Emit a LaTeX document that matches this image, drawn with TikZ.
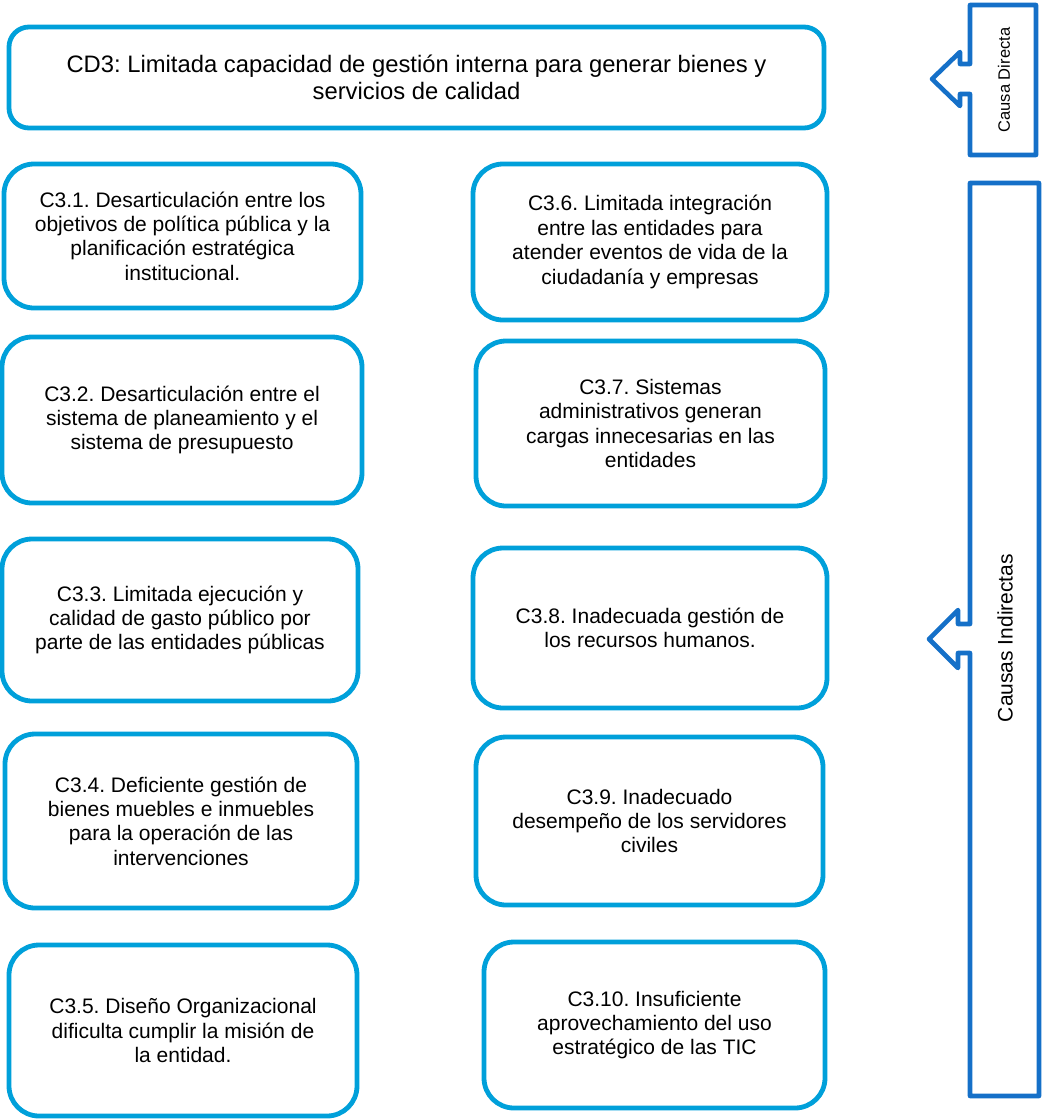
\documentclass[tikz,border=0pt]{standalone}
\usepackage{fontspec}
\setmainfont{Liberation Sans}
\frenchspacing
\definecolor{boxblue}{RGB}{0,160,218}
\definecolor{callblue}{RGB}{21,112,200}
\begin{document}
\begin{tikzpicture}[x=1pt,y=-1pt,
  causebox/.style={draw=boxblue, line width=4.8pt, rounded corners=30pt, rectangle, align=center,
    inner sep=0pt, font=\fontsize{21}{24.4}\selectfont},
  topbox/.style={draw=boxblue, line width=4.8pt, rounded corners=20pt, rectangle, align=center,
    inner sep=0pt, font=\fontsize{23.8}{26.5}\selectfont},
  callout/.style={draw=callblue, line width=4.6pt, line join=round},
  sidelabel/.style={rotate=90, inner sep=0pt}
]
\useasboundingbox (0,0) rectangle (1044,1120);

\node[topbox, minimum width=815pt, minimum height=101pt] (cd3) at (416.5,77.5)
  {CD3: Limitada capacidad de gestión interna para generar bienes y\\servicios de calidad};

\node[causebox, minimum width=357pt, minimum height=144pt] (c31) at (182.5,236)
  {C3.1. Desarticulación entre los\\objetivos de política pública y la\\planificación estratégica\\institucional.};
\node[causebox, minimum width=360pt, minimum height=166pt] (c32) at (182,420)
  {C3.2. Desarticulación entre el\\sistema de planeamiento y el\\sistema de presupuesto};
\node[causebox, minimum width=356pt, minimum height=162pt] (c33) at (180,620)
  {C3.3. Limitada ejecución y\\calidad de gasto público por\\parte de las entidades públicas};
\node[causebox, minimum width=352pt, minimum height=174pt] (c34) at (181,821)
  {C3.4. Deficiente gestión de\\bienes muebles e inmuebles\\para la operación de las\\intervenciones};
\node[causebox, minimum width=348pt, minimum height=171pt] (c35) at (183,1030.5)
  {C3.5. Diseño Organizacional\\dificulta cumplir la misión de\\la entidad.};

\node[causebox, minimum width=354pt, minimum height=156pt] (c36) at (650,242)
  {C3.6. Limitada integración\\entre las entidades para\\atender eventos de vida de la\\ciudadanía y empresas};
\node[causebox, minimum width=349pt, minimum height=165pt] (c37) at (650.5,423.5)
  {C3.7. Sistemas\\administrativos generan\\cargas innecesarias en las\\entidades};
\node[causebox, minimum width=354pt, minimum height=160pt] (c38) at (650,628)
  {C3.8. Inadecuada gestión de\\los recursos humanos.};
\node[causebox, minimum width=347pt, minimum height=168pt] (c39) at (649.5,821)
  {C3.9. Inadecuado\\desempeño de los servidores\\civiles};
\node[causebox, minimum width=341pt, minimum height=166pt] (c310) at (654.5,1025)
  {C3.10. Insuficiente\\aprovechamiento del uso\\estratégico de las TIC};

% Causa Directa callout
\draw[callout] (970,5) -- (1036,5) -- (1036,155) -- (970,155) -- (970,94) -- (960,94)
  -- (960,106) -- (932,79) -- (960,52) -- (960,64) -- (970,64) -- cycle;
\node[sidelabel, font=\fontsize{16.5}{18}\selectfont] (cdlabel) at (1004,80) {Causa Directa};

% Causas Indirectas callout
\draw[callout] (970,183) -- (1039,183) -- (1039,1096) -- (970,1096) -- (970,653) -- (958,653)
  -- (958,668) -- (929,639) -- (958,610) -- (958,624) -- (970,624) -- cycle;
\node[sidelabel, font=\fontsize{21}{24}\selectfont] (cilabel) at (1005,638) {Causas Indirectas};

\end{tikzpicture}
\end{document}
